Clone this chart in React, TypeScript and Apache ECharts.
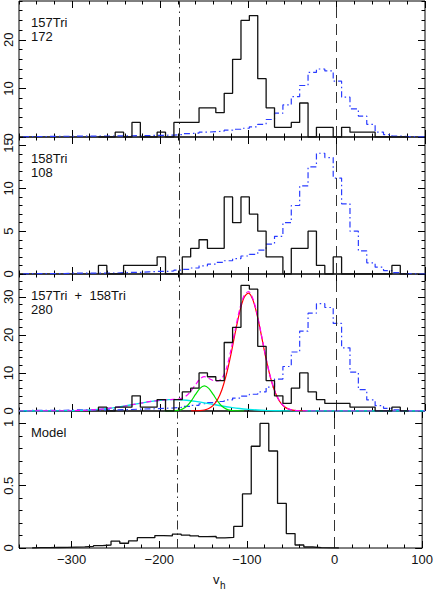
import { useEffect, useRef } from "react";
import * as echarts from "echarts";

// ---------------- data ----------------
// observed histograms: bins of 9.5 km/s starting at -270
const obsBinStart = -270;
const obsBinWidth = 9.5;
const counts157 = [0, 0, 1, 0, 3, 0, 0, 1, 0, 3, 3, 3, 6, 6, 5, 9, 16, 24, 25, 12, 6, 2, 2, 3, 7, 0, 2, 2, 0, 2, 1, 1, 1, 0, 0, 0, 0];
const counts158 = [1, 0, 0, 1, 1, 1, 1, 2, 0, 0, 2, 3, 4, 3, 3, 9, 6, 9, 7, 5, 2, 2, 0, 3, 3, 5, 1, 0, 2, 0, 0, 0, 0, 0, 0, 1, 0];
const countsBoth = [1, 0, 1, 1, 4, 1, 1, 3, 0, 3, 5, 6, 10, 9, 8, 18, 22, 33, 32, 17, 8, 4, 2, 6, 10, 5, 3, 2, 2, 2, 1, 1, 1, 0, 0, 1, 0];

// foreground (blue dash-dot) histograms: same bin width, starting at -355.5
const fgBinStart = -355.5;
const fg157 = [0.1, 0.1, 0.1, 0.15, 0.15, 0.15, 0.2, 0.2, 0.2, 0.2, 0.2, 0.25, 0.25, 0.3, 0.3, 0.35, 0.35, 0.4, 0.5, 0.7, 0.8, 1.0, 1.1, 1.2, 1.4, 1.6, 1.8, 2.1, 2.6, 3.6, 4.9, 6.6, 8.3, 10.6, 13.3, 14.0, 13.6, 11.5, 8.2, 5.8, 4.3, 2.6, 1.0, 0.5, 0.2, 0.1, 0.05, 0];
const fg158 = [0.05, 0.05, 0.05, 0.05, 0.05, 0.1, 0.1, 0.1, 0.1, 0.1, 0.1, 0.15, 0.2, 0.2, 0.25, 0.3, 0.3, 0.35, 0.45, 0.55, 0.7, 0.95, 1.15, 1.35, 1.55, 1.8, 2.1, 2.3, 2.8, 3.5, 4.4, 6.0, 8.0, 10.3, 12.5, 14.1, 13.6, 11.2, 8.2, 5.0, 2.7, 1.3, 0.8, 0.4, 0.15, 0.05, 0, 0];
const fgBoth = [0.15, 0.15, 0.15, 0.2, 0.2, 0.25, 0.3, 0.3, 0.3, 0.3, 0.3, 0.35, 0.4, 0.5, 0.55, 0.6, 0.7, 0.8, 0.95, 1.2, 1.5, 1.9, 2.2, 2.5, 2.9, 3.4, 3.9, 4.4, 5.0, 6.3, 8.4, 11.7, 15.5, 21.0, 25.7, 28.2, 27.2, 23.0, 16.6, 10.2, 5.6, 2.9, 1.4, 0.7, 0.3, 0.1, 0.05, 0];

// model histogram: bins of 10 starting at -345
const modelBinStart = -345;
const modelBinWidth = 10;
const modelValues = [0.003, 0.003, 0.004, 0.005, 0.007, 0.009, 0.013, 0.019, 0.024, 0.055, 0.038, 0.058, 0.083, 0.083, 0.1, 0.097, 0.112, 0.104, 0.097, 0.091, 0.093, 0.082, 0.085, 0.173, 0.434, 0.817, 1.0, 0.779, 0.358, 0.116, 0.024, 0.008, 0.003, 0.001, 0];

// fitted curves in the combined panel
const cyanX = [-360, -340, -320, -310, -300, -290, -280, -270, -260, -250, -240, -230, -220, -210, -200, -190, -180, -170, -160, -150, -140, -130, -120, -110, -100, -90, -80, -70, -60, -50, -40, -20, 0, 100];
const cyanY = [0, 0.005, 0.02, 0.04, 0.08, 0.15, 0.26, 0.43, 0.65, 0.96, 1.32, 1.73, 2.15, 2.53, 2.82, 2.98, 2.98, 2.82, 2.53, 2.15, 1.73, 1.32, 0.96, 0.65, 0.43, 0.26, 0.15, 0.08, 0.04, 0.02, 0.01, 0, 0, 0];
const greenX = [-195, -190, -185, -180, -175, -170, -165, -160, -155, -150, -145, -140, -135, -130, -125, -120, -115, -110, -105];
const greenY = [0, 0.01, 0.04, 0.16, 0.5, 1.26, 2.61, 4.36, 5.95, 6.6, 5.95, 4.36, 2.61, 1.26, 0.5, 0.16, 0.04, 0.01, 0];
const redX = [-165, -160, -155, -150, -145, -140, -135, -130, -125, -120, -115, -110, -105, -100, -95, -90, -85, -80, -75, -70, -65, -60, -55, -50, -45, -40, -35];
const redY = [0.01, 0.03, 0.09, 0.26, 0.65, 1.47, 3.03, 5.66, 9.6, 14.75, 20.6, 26.0, 29.8, 31.0, 29.2, 25.0, 19.4, 13.6, 8.7, 5.04, 2.64, 1.26, 0.55, 0.21, 0.08, 0.02, 0];
const magentaX = [-360, -340, -320, -300, -280, -260, -240, -220, -210, -200, -195, -190, -185, -180, -175, -170, -165, -160, -155, -150, -145, -140, -135, -130, -125, -120, -115, -110, -105, -100, -95, -90, -85, -80, -75, -70, -65, -60, -55, -50, -45, -40, -30, 100];
const magentaY = [0, 0.01, 0.02, 0.08, 0.26, 0.65, 1.32, 2.15, 2.53, 2.82, 2.92, 2.99, 3.04, 3.14, 3.42, 4.08, 5.3, 6.92, 8.39, 9.01, 8.55, 8.0, 7.9, 8.6, 11.2, 15.9, 21.4, 26.7, 30.3, 31.4, 29.5, 25.3, 19.6, 13.8, 8.8, 5.1, 2.7, 1.3, 0.58, 0.23, 0.1, 0.03, 0, 0];

// reference velocities (vertical lines)
const systemicVelocity = -179;
const zeroVelocity = 0;

// ticks
const xTicks = [-360, -340, -320, -300, -280, -260, -240, -220, -200, -180, -160, -140, -120, -100, -80, -60, -40, -20, 0, 20, 40, 60, 80, 100];
const xMajor = [-300, -200, -100, 0, 100];
const yTicks157 = [0, 2, 4, 6, 8, 10, 12, 14, 16, 18, 20, 22, 24, 26, 28];
const yMajor157 = [0, 10, 20];
const yTicks158 = [0, 1, 2, 3, 4, 5, 6, 7, 8, 9, 10, 11, 12, 13, 14, 15, 16];
const yMajor158 = [0, 5, 10, 15];
const yTicksBoth = [0, 2, 4, 6, 8, 10, 12, 14, 16, 18, 20, 22, 24, 26, 28, 30, 32, 34, 36];
const yMajorBoth = [0, 10, 20, 30];
const yTicksModel = [0, 0.1, 0.2, 0.3, 0.4, 0.5, 0.6, 0.7, 0.8, 0.9, 1, 1.1];
const yMajorModel = [0, 0.5, 1];

const panelTexts = ["157Tri\n172", "158Tri\n108", "157Tri  +  158Tri\n280", "Model"];

// ---------------- layout / style ----------------
const FONT = '"Liberation Sans", Arial, Helvetica, sans-serif';
const gridTops = [1, 137, 274, 411];
const gridHeights = [136, 137, 137, 137];
const GRID_LEFT = 19;
const GRID_RIGHT = 11;

function histLine(start: number, width: number, vals: number[]) {
  const pts: number[][] = [[start, 0]];
  vals.forEach((v, i) => pts.push([start + i * width, v]));
  pts.push([start + vals.length * width, vals[vals.length - 1]]);
  pts.push([start + vals.length * width, 0]);
  return pts;
}
function pairs(xs: number[], ys: number[]) {
  return xs.map((x, i) => [x, ys[i]]);
}

function buildOption() {
  const grids: any[] = [];
  const xAxes: any[] = [];
  const yAxes: any[] = [];
  const series: any[] = [];
  const graphics: any[] = [];

  const panels = [
    { hist: counts157, fg: fg157, yTicks: yTicks157, yMajor: yMajor157 },
    { hist: counts158, fg: fg158, yTicks: yTicks158, yMajor: yMajor158 },
    { hist: countsBoth, fg: fgBoth, yTicks: yTicksBoth, yMajor: yMajorBoth },
    { hist: null as number[] | null, fg: null as number[] | null, yTicks: yTicksModel, yMajor: yMajorModel },
  ];

  const tickStyle = { color: "#000", width: 1 };
  const isMajorX = (_i: number, v: string) => xMajor.includes(Number(v));

  panels.forEach((pn, p) => {
    grids.push({
      left: GRID_LEFT,
      right: GRID_RIGHT,
      top: gridTops[p],
      height: gridHeights[p],
      show: true,
      borderColor: "#000",
      borderWidth: 1,
      backgroundColor: "transparent",
    });
    const isMajorY = (_i: number, v: string) => pn.yMajor.includes(Number(v));
    const xMin = xTicks[0];
    const xMax = xTicks[xTicks.length - 1];
    const xInt = xTicks[1] - xTicks[0];
    const yMin = pn.yTicks[0];
    const yMax = pn.yTicks[pn.yTicks.length - 1];
    const yInt = +(pn.yTicks[1] - pn.yTicks[0]).toFixed(6);

    for (const pos of ["bottom", "top"]) {
      xAxes.push({
        gridIndex: p,
        type: "value",
        position: pos,
        min: xMin,
        max: xMax,
        interval: xInt,
        axisLine: { show: false, onZero: false },
        axisTick: { show: true, inside: true, length: 3.5, lineStyle: tickStyle },
        axisLabel: { show: false },
        splitLine: { show: false },
      });
      xAxes.push({
        gridIndex: p,
        type: "category",
        position: pos,
        data: xTicks.map(String),
        boundaryGap: false,
        axisLine: { show: false, onZero: false },
        axisTick: { show: true, inside: true, length: 7, interval: isMajorX, lineStyle: tickStyle },
        axisLabel: {
          show: p === 3 && pos === "bottom",
          interval: isMajorX,
          formatter: (v: string) => v.replace("-", "\u2212"),
          margin: 5,
          color: "#111",
          fontSize: 13,
          fontFamily: FONT,
        },
        splitLine: { show: false },
      });
    }
    for (const pos of ["left", "right"]) {
      yAxes.push({
        gridIndex: p,
        type: "value",
        position: pos,
        min: yMin,
        max: yMax,
        interval: yInt,
        axisLine: { show: false, onZero: false },
        axisTick: { show: true, inside: true, length: 3.5, lineStyle: tickStyle },
        axisLabel: { show: false },
        splitLine: { show: false },
      });
      yAxes.push({
        gridIndex: p,
        type: "category",
        position: pos,
        data: pn.yTicks.map(String),
        boundaryGap: false,
        axisLine: { show: false, onZero: false },
        axisTick: { show: true, inside: true, length: 7, interval: isMajorY, lineStyle: tickStyle },
        axisLabel: {
          show: pos === "left",
          interval: isMajorY,
          rotate: 90,
          margin: 4,
          color: "#111",
          fontSize: 13,
          fontFamily: FONT,
        },
        splitLine: { show: false },
      });
    }

    const xi = p * 4;
    const yi = p * 4;
    const markLine = {
      silent: true,
      symbol: ["none", "none"],
      label: { show: false },
      animation: false,
      data: [
        { xAxis: systemicVelocity, lineStyle: { color: "#333", width: 1, type: [9, 4, 1.5, 4] } },
        { xAxis: zeroVelocity, lineStyle: { color: "#333", width: 1, type: [11, 6] } },
      ],
    };

    if (pn.fg) {
      series.push({
        type: "line",
        xAxisIndex: xi,
        yAxisIndex: yi,
        data: histLine(fgBinStart, obsBinWidth, pn.fg),
        step: "end",
        symbol: "none",
        lineStyle: { color: "#2a3cff", width: 1.2, type: [6, 3, 1.5, 3] },
        z: 3,
      });
    }
    if (p === 2) {
      const curve = (xs: number[], ys: number[], color: string, type: any, width: number) => ({
        type: "line",
        xAxisIndex: xi,
        yAxisIndex: yi,
        data: pairs(xs, ys),
        smooth: 0.3,
        symbol: "none",
        lineStyle: { color, width, type },
        z: 4,
      });
      series.push(curve(cyanX, cyanY, "#00e8e8", "solid", 1.4));
      series.push(curve(greenX, greenY, "#00e000", "solid", 1.2));
      series.push(curve(redX, redY, "#ff0000", "solid", 1.2));
      series.push(curve(magentaX, magentaY, "#ff00ff", [5, 3], 1.2));
    }
    series.push({
      type: "line",
      xAxisIndex: xi,
      yAxisIndex: yi,
      data: pn.hist
        ? histLine(obsBinStart, obsBinWidth, pn.hist)
        : histLine(modelBinStart, modelBinWidth, modelValues),
      step: "end",
      symbol: "none",
      lineStyle: { color: "#111", width: 1.3 },
      z: 5,
      markLine,
    });

    graphics.push({
      type: "text",
      x: 31,
      y: gridTops[p] + 14,
      style: {
        text: panelTexts[p],
        fill: "#111",
        font: `13px ${FONT}`,
        lineHeight: 14,
        verticalAlign: "top",
        textVerticalAlign: "top",
      },
    });
  });

  graphics.push({
    type: "text",
    x: 213,
    y: 579,
    style: { text: "v", fill: "#111", font: `13px ${FONT}`, verticalAlign: "middle", textVerticalAlign: "middle" },
  });
  graphics.push({
    type: "text",
    x: 220,
    y: 585,
    style: { text: "h", fill: "#111", font: `10px ${FONT}`, verticalAlign: "middle", textVerticalAlign: "middle" },
  });

  return {
    animation: false,
    backgroundColor: "#fff",
    grid: grids,
    xAxis: xAxes,
    yAxis: yAxes,
    series,
    graphic: graphics,
  };
}

export default function App() {
  const ref = useRef<HTMLDivElement>(null);
  useEffect(() => {
    if (!ref.current) return;
    const chart = echarts.init(ref.current, null, { renderer: "svg", width: 436, height: 595 });
    chart.setOption(buildOption() as any);
    return () => chart.dispose();
  }, []);
  return (
    <div
      ref={ref}
      style={{ position: "fixed", left: 0, top: 0, width: 436, height: 595, background: "#fff" }}
    />
  );
}
